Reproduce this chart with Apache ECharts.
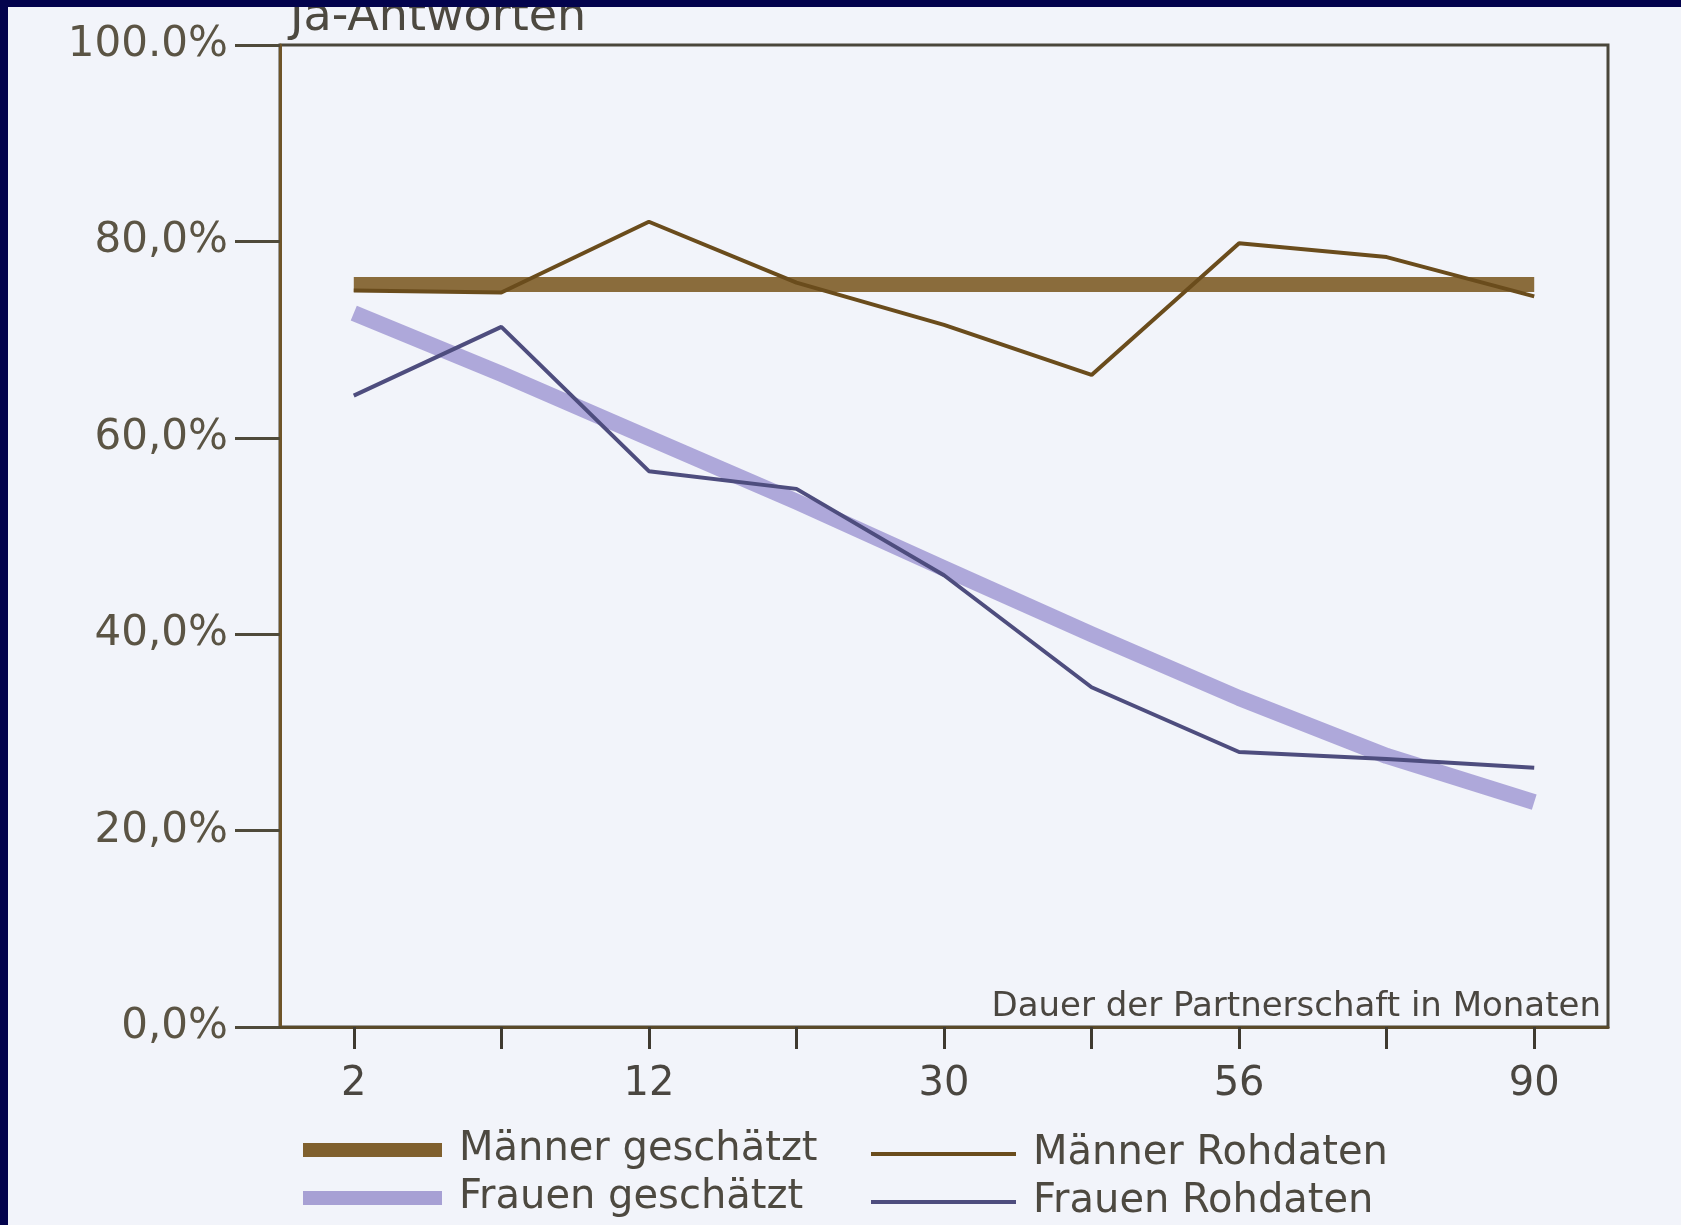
<!DOCTYPE html>
<html>
<head>
<meta charset="utf-8">
<script src="https://cdn.jsdelivr.net/npm/echarts@6/dist/echarts.min.js"></script>
<style>
  html, body { margin: 0; padding: 0; background: #f2f4fa; }
  #chart { width: 1681px; height: 1225px; }
</style>
</head>
<body>
<div id="chart"></div>
<script>
// ---- data ----
const xLabels = ['2', '', '12', '', '30', '', '56', '', '90'];
const yTickLabels = ['0,0%', '20,0%', '40,0%', '60,0%', '80,0%', '100.0%'];
const maennerGeschaetzt = [75.6, 75.6, 75.6, 75.6, 75.6, 75.6, 75.6, 75.6, 75.6];
const maennerRohdaten   = [75.0, 74.8, 82.0, 75.8, 71.5, 66.4, 79.8, 78.4, 74.4];
const frauenGeschaetzt  = [72.7, 66.5, 60.0, 53.5, 46.7, 40.0, 33.5, 27.6, 22.9];
const frauenRohdaten    = [64.3, 71.3, 56.6, 54.8, 46.0, 34.6, 28.0, 27.3, 26.4];
const seriesNames = ['Männer geschätzt', 'Frauen geschätzt', 'Männer Rohdaten', 'Frauen Rohdaten'];
const yTitle = 'Ja-Antworten';
const xTitle = 'Dauer der Partnerschaft in Monaten';

const FONT = '"DejaVu Sans", "Open Sans", sans-serif';
const chart = echarts.init(document.getElementById('chart'), null, { renderer: 'canvas' });

const legendText = { fontFamily: FONT, fontSize: 40, color: '#4d4940', lineHeight: 44, padding: [0, 0, 0, 12] };

function legendItem(name, left, top, w, h) {
  return {
    orient: 'horizontal', left: left, top: top,
    icon: 'rect', itemWidth: w, itemHeight: h,
    data: [name], textStyle: legendText, selectedMode: false
  };
}

chart.setOption({
  animation: false,
  backgroundColor: '#f2f4fa',
  grid: {
    left: 280, top: 45, width: 1328, height: 982,
    show: true, borderColor: '#4a463a', borderWidth: 3, backgroundColor: 'transparent'
  },
  xAxis: {
    type: 'category',
    data: xLabels,
    boundaryGap: true,
    axisLine: { show: true, lineStyle: { color: '#5a4a2a', width: 3 } },
    axisTick: { show: true, alignWithLabel: true, length: 22, lineStyle: { color: '#3f3a30', width: 3 } },
    axisLabel: { interval: 0, margin: 38, fontFamily: FONT, fontSize: 40, color: '#4a4640' },
    splitLine: { show: false }
  },
  yAxis: {
    type: 'value',
    min: 0, max: 100, interval: 20,
    axisLine: { show: true, lineStyle: { color: '#6e5428', width: 3 } },
    axisTick: { show: true, length: 45, lineStyle: { color: '#4f4a3a', width: 3 } },
    axisLabel: {
      margin: 52, fontFamily: FONT, fontSize: 42, color: '#5b5444',
      formatter: v => yTickLabels[Math.round(v / 20)]
    },
    splitLine: { show: false }
  },
  legend: [
    legendItem(seriesNames[0], 298, 1123, 139, 14),
    legendItem(seriesNames[1], 298, 1171, 139, 14),
    legendItem(seriesNames[2], 866, 1127, 145, 4),
    legendItem(seriesNames[3], 866, 1175, 145, 4)
  ],
  series: [
    {
      name: seriesNames[0], type: 'line', data: maennerGeschaetzt,
      symbol: 'none', color: '#80602e', z: 1,
      lineStyle: { width: 15, color: '#8a6c3c', cap: 'butt' }
    },
    {
      name: seriesNames[1], type: 'line', data: frauenGeschaetzt,
      symbol: 'none', color: '#a7a0d4', z: 1,
      lineStyle: { width: 16, color: 'rgba(162,154,212,0.85)', cap: 'butt', join: 'round' }
    },
    {
      name: seriesNames[2], type: 'line', data: maennerRohdaten,
      symbol: 'none', color: '#6a4c1c', z: 3,
      lineStyle: { width: 4, color: '#6a4c1c' }
    },
    {
      name: seriesNames[3], type: 'line', data: frauenRohdaten,
      symbol: 'none', color: '#4e4d7e', z: 3,
      lineStyle: { width: 4, color: '#4e4d7e' }
    }
  ],
  graphic: [
    {
      type: 'text', z: 5, left: 290, top: -5,
      style: { text: yTitle, font: '46px ' + FONT, fill: '#4d4940' }
    },
    {
      type: 'text', z: 5, right: 80, top: 990,
      style: { text: xTitle, font: '34px ' + FONT, fill: '#4a4640' }
    },
    { type: 'rect', z: 100, left: 0, top: 0, shape: { width: 1681, height: 7 }, style: { fill: '#03034d' } },
    { type: 'rect', z: 100, left: 0, top: 0, shape: { width: 8, height: 1225 }, style: { fill: '#03034d' } }
  ]
});
</script>
</body>
</html>
